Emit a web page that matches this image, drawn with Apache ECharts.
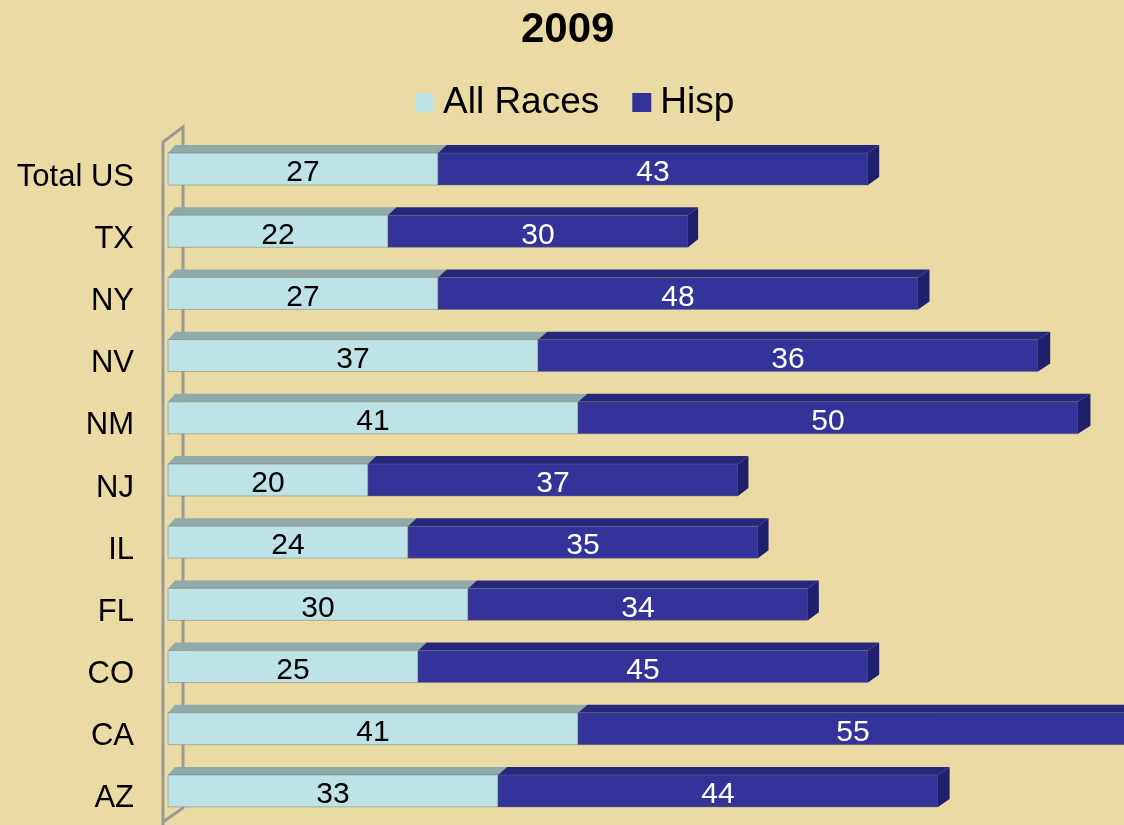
<!DOCTYPE html>
<html>
<head>
<meta charset="utf-8">
<script src="https://cdn.jsdelivr.net/npm/echarts@6/dist/echarts.min.js"></script>
<style>
html,body{margin:0;padding:0;background:#EADBA4;}
#chart{width:1124px;height:825px;}
</style>
</head>
<body>
<div id="chart"></div>
<script>
const categories = ['Total US', 'TX', 'NY', 'NV', 'NM', 'NJ', 'IL', 'FL', 'CO', 'CA', 'AZ'];
const allRaces = [27, 22, 27, 37, 41, 20, 24, 30, 25, 41, 33];
// printed Hisp labels
const hisp = [43, 30, 48, 36, 50, 37, 35, 34, 45, 55, 44];
// Hisp bar lengths as drawn in the picture (NV bar is drawn longer than its label)
const hispBar = [43, 30, 48, 50, 50, 37, 35, 34, 45, 55, 44];
const seriesNames = ['All Races', 'Hisp'];

const FONT = '"Liberation Sans", Arial, sans-serif';
const GRID_LEFT = 168;
const DY = 8;
function dxAt(x) { return 7 + 0.006 * (x - GRID_LEFT); }

const lightData = categories.map((c, i) => [0, allRaces[i], i, allRaces[i]]);
const darkData = categories.map((c, i) => [allRaces[i], allRaces[i] + hispBar[i], i, hisp[i]]);

function makeRender(front, top, side, textColor, drawSide) {
  return function (params, api) {
    const cat = api.value(2);
    const s = api.coord([api.value(0), cat]);
    const e = api.coord([api.value(1), cat]);
    const h = api.size([0, 1])[1] * 0.514;
    const yTop = s[1] - h / 2;
    const yBot = s[1] + h / 2;
    const ds = dxAt(s[0]), de = dxAt(e[0]);
    const children = [
      { type: 'polygon', shape: { points: [[s[0], yTop], [e[0], yTop], [e[0] + de, yTop - DY], [s[0] + ds, yTop - DY]] },
        style: { fill: top } },
      { type: 'rect', shape: { x: s[0], y: yTop, width: e[0] - s[0], height: h },
        style: { fill: front, stroke: 'rgba(110,110,100,0.45)', lineWidth: 1 } }
    ];
    if (drawSide) {
      children.push({ type: 'polygon', shape: { points: [[e[0], yTop], [e[0] + de, yTop - DY], [e[0] + de, yBot - DY], [e[0], yBot]] },
        style: { fill: side } });
    }
    children.push({ type: 'text', x: (s[0] + e[0]) / 2, y: s[1] + 4,
      style: { text: String(api.value(3)), fill: textColor, font: '30px ' + FONT, align: 'center', verticalAlign: 'middle' } });
    return { type: 'group', children: children };
  };
}

function wallRender(params, api) {
  const cs = params.coordSys;
  const xf = cs.x - 5, xb = cs.x + 15;
  const topB = cs.y - 11, topF = topB + 15;
  const botB = cs.y + cs.height - 14, botF = botB + 14;
  const st = { stroke: '#9A9A92', lineWidth: 3, fill: null };
  return { type: 'group', children: [
    { type: 'polyline', shape: { points: [[xf, 830], [xf, topF], [xb, topB], [xb, botB], [xf, botF]] }, style: st }
  ] };
}

const chart = echarts.init(document.getElementById('chart'), null, { renderer: 'canvas' });
chart.setOption({
  backgroundColor: '#EADBA4',
  animation: false,
  title: {
    text: '2009', left: 516, top: 4,
    textStyle: { fontFamily: FONT, fontSize: 42, fontWeight: 'bold', color: '#000' }
  },
  legend: {
    data: seriesNames, top: 79, left: 410, icon: 'rect',
    itemWidth: 19, itemHeight: 19, itemGap: 33,
    textStyle: { fontFamily: FONT, fontSize: 37, color: '#000', padding: [0, 0, 0, 4] }
  },
  grid: { left: GRID_LEFT, right: 0, top: 138, bottom: 3, containLabel: false },
  xAxis: { type: 'value', min: 0, max: 95.6, show: false },
  yAxis: {
    type: 'category', data: categories, inverse: true,
    axisLine: { show: false }, axisTick: { show: false }, splitLine: { show: false },
    axisLabel: {
      margin: 34, color: '#000',
      formatter: function (v) { return '{a|' + v + '}'; },
      rich: { a: { fontFamily: FONT, fontSize: 31, color: '#000', padding: [16, 0, 0, 0] } }
    }
  },
  series: [
    { type: 'custom', name: 'wall', data: [[0, 0, 0]], renderItem: wallRender, silent: true, z: 1,
      encode: { x: 0, y: 2 }, legendHoverLink: false },
    { type: 'custom', name: 'All Races', data: lightData, z: 2,
      itemStyle: { color: '#BDE3E6' },
      encode: { x: [0, 1], y: 2 },
      renderItem: makeRender('#BDE3E6', '#8FAAA9', '#8FAAA9', '#000', false) },
    { type: 'custom', name: 'Hisp', data: darkData, z: 3,
      itemStyle: { color: '#333399' },
      encode: { x: [0, 1], y: 2 },
      renderItem: makeRender('#343399', '#27267D', '#201F6B', '#fff', true) }
  ]
});
</script>
</body>
</html>
